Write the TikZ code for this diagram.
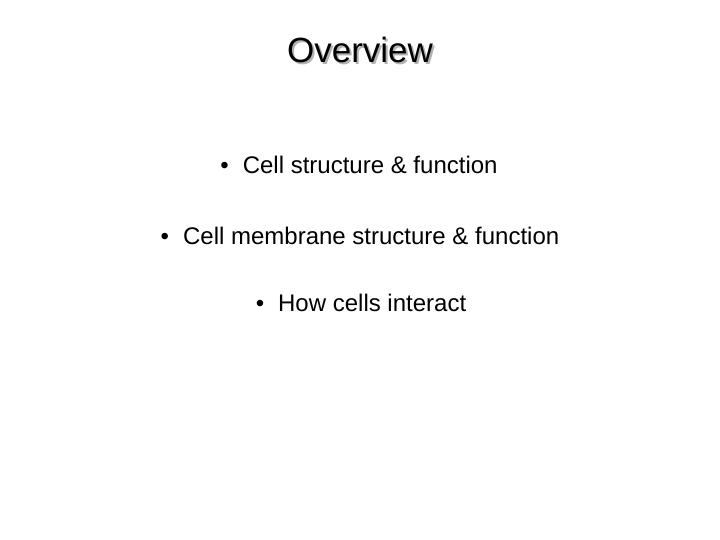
\documentclass[tikz,border=0pt]{standalone}
\usepackage{fontspec}
\setmainfont{Liberation Sans}
\usetikzlibrary{positioning}
\begin{document}
\begin{tikzpicture}[x=1pt,y=-1pt,
  heading/.style={font=\fontsize{35}{40}\selectfont, inner sep=0pt},
  item/.style={font=\fontsize{24}{28}\selectfont, inner sep=0pt},
]
\useasboundingbox[fill=white] (0,0) rectangle (720,540);
% title with shadow
\node[heading, gray!60] (shadow) at (362,52) {Overview};
\node[heading] (title) at (360,50) {Overview};
% bullet lines
\node[item] (b1) at (359,165) {\textbullet\hspace{14pt}Cell structure \& function};
\node[item] (b2) at (360,236) {\textbullet\hspace{14pt}Cell membrane structure \& function};
\node[item] (b3) at (361,303) {\textbullet\hspace{14pt}How cells interact};
\end{tikzpicture}
\end{document}
